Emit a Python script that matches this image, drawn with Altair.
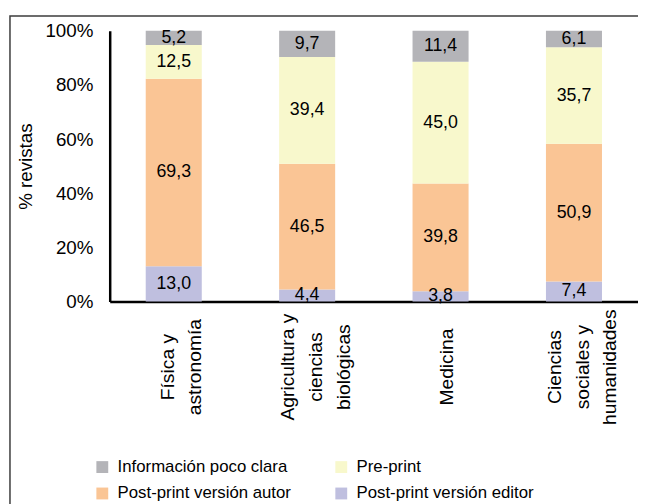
import altair as alt
import pandas as pd

FONT = "Liberation Sans"

categories = ["Física y|astronomía", "Agricultura y|ciencias|biológicas", "Medicina", "Ciencias|sociales y|humanidades"]
series = ["Información poco clara", "Pre-print", "Post-print versión autor", "Post-print versión editor"]
series_colors = ["#b4b4b8", "#f8f8cc", "#fac595", "#bfbfdf"]
stack_order = [3, 2, 1, 0]  # bottom = editor

info = [5.2, 9.7, 11.4, 6.1]
preprint = [12.5, 39.4, 45.0, 35.7]
autor = [69.3, 46.5, 39.8, 50.9]
editor = [13.0, 4.4, 3.8, 7.4]

# legend fills column by column: order so rows read info | pre-print, autor | editor
legend_order = [series[0], series[2], series[1], series[3]]
legend_colors = [series_colors[series.index(s)] for s in legend_order]

series_values = [info, preprint, autor, editor]
rows = []
for s, vals, o in zip(series, series_values, stack_order):
    for c, v in zip(categories, vals):
        rows.append({"cat": c, "serie": s, "value": v, "ord": o})
df = pd.DataFrame(rows)

base = alt.Chart(df).transform_joinaggregate(
    total="sum(value)", groupby=["cat"]
).transform_calculate(
    frac="datum.value / datum.total",
    lab="replace(format(datum.value, '.1f'), '.', ',')",
).transform_stack(
    stack="frac", groupby=["cat"], as_=["y0", "y1"], sort=[alt.SortField("ord", order="ascending")]
).transform_calculate(
    mid="(datum.y0 + datum.y1) / 2"
)

# centre multi-line rotated labels on their band
label_offset = {
    "condition": [
        {"test": "length(split(datum.value, '|')) == 3", "value": -19},
        {"test": "length(split(datum.value, '|')) == 2", "value": -6},
    ],
    "value": 7,
}

xenc = alt.X(
    "cat:N",
    sort=categories,
    scale=alt.Scale(paddingInner=0.58, paddingOuter=0.27),
    axis=alt.Axis(
        title=None, labelAngle=270, labelAlign="center", labelBaseline="middle",
        labelPadding=66, labelFontSize=19.5, labelLineHeight=28, ticks=False,
        labelOffset=label_offset,
        labelExpr="split(datum.label, '|')", domainWidth=2.5, domainColor="black",
        labelColor="black", labelFont=FONT, grid=False,
    ),
)

bars = base.mark_bar().encode(
    x=xenc,
    y=alt.Y(
        "y0:Q",
        scale=alt.Scale(domain=[0, 1], nice=False),
        axis=alt.Axis(
            title="% revistas", format=".0%", values=[0, 0.2, 0.4, 0.6, 0.8, 1.0],
            ticks=False, grid=False, domainWidth=2.5, domainColor="black",
            labelFontSize=19, labelPadding=17, labelColor="black", labelFont=FONT,
            titleFont=FONT, titleFontSize=19, titleFontWeight="normal", titleColor="black",
            titlePadding=10,
        ),
    ),
    y2="y1:Q",
    color=alt.Color(
        "serie:N",
        scale=alt.Scale(domain=legend_order, range=legend_colors),
        legend=alt.Legend(
            title=None, orient="none", legendX=-16, legendY=433, columns=2,
            symbolType="square", symbolSize=144, symbolStrokeWidth=0,
            labelFontSize=17, labelFont=FONT, labelColor="black", labelOffset=7,
            columnPadding=42, rowPadding=9, labelLimit=400, padding=0,
        ),
    ),
    order=alt.Order("ord:Q"),
)

texts = base.mark_text(font=FONT, fontSize=18, color="black", baseline="middle").encode(
    x=alt.X("cat:N", sort=categories),
    y=alt.Y("mid:Q"),
    text="lab:N",
)

border = alt.Chart(alt.Data(values=[{"a": 1}])).mark_rect(
    fill="transparent", stroke="#3c3c3c", strokeWidth=1.5
).encode(
    x=alt.value(-101), y=alt.value(-15), x2=alt.value(800), y2=alt.value(700)
)

chart = alt.layer(border, bars, texts).properties(
    width=535,
    height=274,
    autosize=alt.AutoSizeParams(type="none"),
    padding={"left": 103, "top": 20, "right": 0, "bottom": 202},
).configure_view(stroke=None)

chart.save("out.html", embed_options={"renderer": "svg", "actions": False})
